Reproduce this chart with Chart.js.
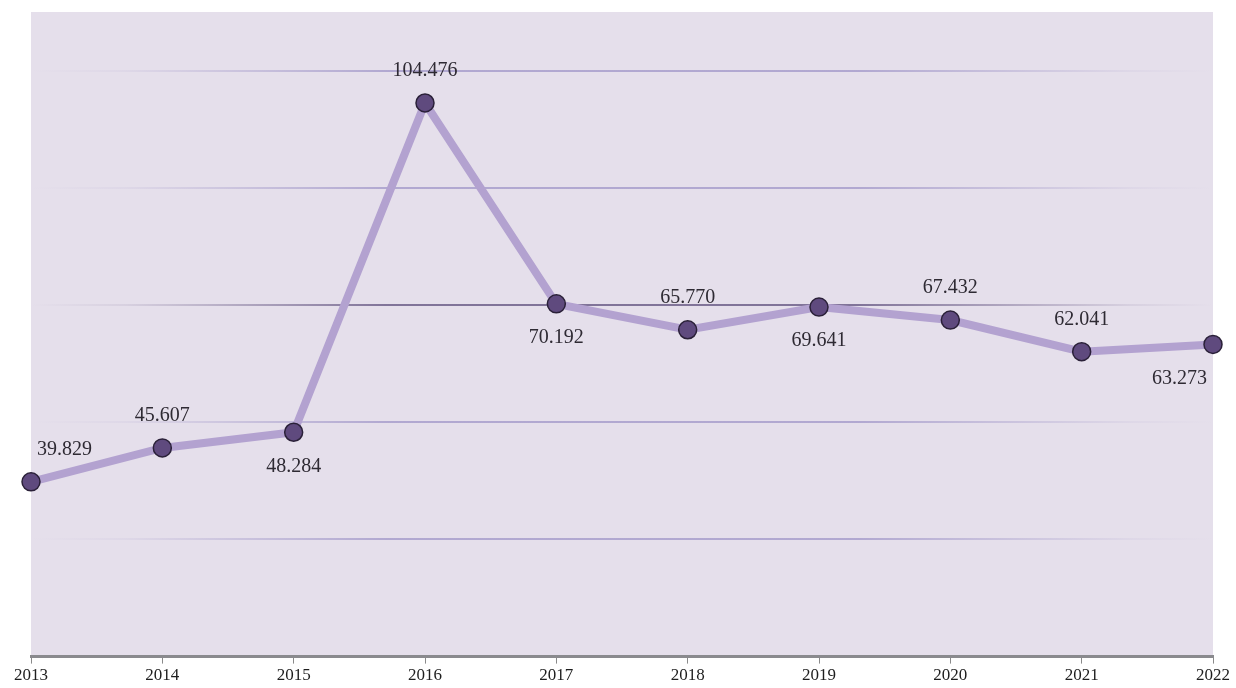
<!DOCTYPE html>
<html lang="en">

<head>
    <meta charset="UTF-8">
    <title>Chart</title>
    <script src="https://cdn.jsdelivr.net/npm/chart.js"></script>
    <style>
        html, body { margin: 0; padding: 0; background: #ffffff; }
        #wrap { width: 1236px; height: 688px; }
    </style>
</head>

<body>
    <div id="wrap">
        <canvas id="myChart"></canvas>
    </div>
    <script>
        // data
        const years = ['2013', '2014', '2015', '2016', '2017', '2018', '2019', '2020', '2021', '2022'];
        const values = [39.829, 45.607, 48.284, 104.476, 70.192, 65.770, 69.641, 67.432, 62.041, 63.273];
        // where each value label sits: 1 = above the point, -1 = below
        const labelSide = [1, 1, -1, 1, -1, 1, -1, 1, 1, -1];
        const yTicks = [10, 30, 50, 70, 90, 110];

        // lavender panel behind the plot
        const panelBg = {
            id: 'panelBg',
            beforeDraw(chart) {
                const { ctx, chartArea: a } = chart;
                ctx.save();
                ctx.fillStyle = '#e5dfeb';
                ctx.fillRect(a.left, a.top, a.right - a.left, a.bottom - a.top);
                ctx.restore();
            }
        };

        // value labels above / below the points
        const valueLabels = {
            id: 'valueLabels',
            afterDatasetsDraw(chart) {
                const { ctx, chartArea: a } = chart;
                const pts = chart.getDatasetMeta(0).data;
                ctx.save();
                ctx.font = '20px "Liberation Serif", serif';
                ctx.fillStyle = '#2e2a33';
                ctx.textAlign = 'center';
                ctx.textBaseline = 'middle';
                pts.forEach((p, i) => {
                    const txt = values[i].toFixed(3);
                    const w = ctx.measureText(txt).width;
                    let x = p.x;
                    if (x - w / 2 < a.left + 6) x = a.left + 6 + w / 2;
                    if (x + w / 2 > a.right - 6) x = a.right - 6 - w / 2;
                    const y = labelSide[i] > 0 ? p.y - 32 : p.y + 34;
                    ctx.fillText(txt, x, y);
                });
                ctx.restore();
            }
        };

        function gridColor(context) {
            const chart = context.chart;
            const a = chart.chartArea;
            if (!a) return 'rgba(0,0,0,0)';
            const v = context.tick && context.tick.value;
            const dark = v === 70;
            const c = dark ? '95,80,125' : '160,150,200';
            const g = chart.ctx.createLinearGradient(a.left, 0, a.right, 0);
            g.addColorStop(0, 'rgba(' + c + ',0)');
            g.addColorStop(0.08, 'rgba(' + c + ',0.1)');
            g.addColorStop(0.3, 'rgba(' + c + ',0.75)');
            g.addColorStop(0.7, 'rgba(' + c + ',0.75)');
            g.addColorStop(0.93, 'rgba(' + c + ',0.1)');
            g.addColorStop(1, 'rgba(' + c + ',0)');
            return g;
        }

        const config = {
            type: 'line',
            data: {
                labels: years,
                datasets: [{
                    data: values,
                    borderColor: '#b3a2d0',
                    borderWidth: 8,
                    tension: 0,
                    pointRadius: 9,
                    pointBackgroundColor: '#5f4a7e',
                    pointBorderColor: '#2a2038',
                    pointBorderWidth: 1.5,
                    clip: false
                }]
            },
            options: {
                responsive: true,
                maintainAspectRatio: false,
                animation: false,
                layout: { padding: { left: 31, right: 23, top: 12, bottom: 0 } },
                plugins: {
                    legend: { display: false },
                    tooltip: { enabled: false }
                },
                scales: {
                    x: {
                        offset: false,
                        grid: {
                            drawOnChartArea: false,
                            drawTicks: true,
                            tickLength: 7,
                            color: '#8a8a8a',
                            lineWidth: 1
                        },
                        border: { display: true, color: '#8a8a8e', width: 3 },
                        ticks: {
                            color: '#1e1e1e',
                            padding: 2,
                            maxRotation: 0,
                            font: { family: '"Liberation Serif", serif', size: 17 }
                        }
                    },
                    y: {
                        min: 10,
                        max: 120,
                        afterBuildTicks(axis) {
                            axis.ticks = yTicks.map(v => ({ value: v }));
                        },
                        grid: { color: gridColor, lineWidth: 2, drawTicks: false },
                        border: { display: false },
                        ticks: { display: false }
                    }
                }
            },
            plugins: [panelBg, valueLabels]
        };

        new Chart(document.getElementById('myChart'), config);
    </script>
</body>

</html>
